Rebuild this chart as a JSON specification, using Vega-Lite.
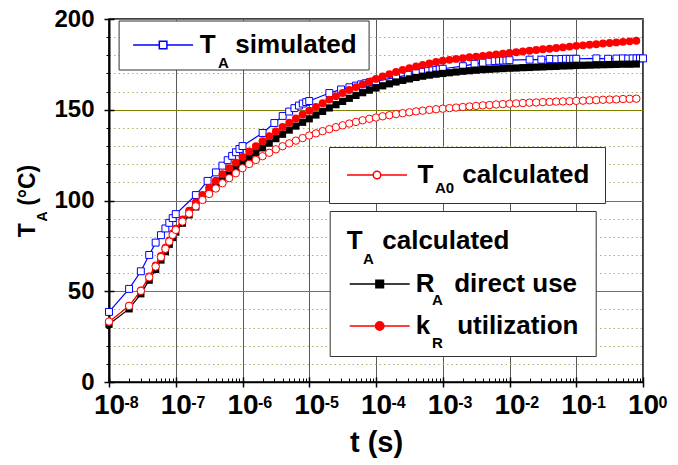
{
  "$schema": "https://vega.github.io/schema/vega-lite/v6.json",
  "width": 534,
  "height": 363,
  "autosize": {"type": "none"},
  "padding": {"left": 109, "top": 19, "right": 35, "bottom": 83},
  "background": "white",
  "config": {
    "view": {"stroke": "black", "strokeWidth": 1.5},
    "font": "Liberation Sans",
    "axis": {"labelFont": "Liberation Sans", "titleFont": "Liberation Sans", "labelColor": "black", "titleColor": "black"},
    "legend": {"labelFont": "Liberation Sans", "titleFont": "Liberation Sans", "labelColor": "black", "titleColor": "black"}
  },
  "datasets": {
    "sim": [
      {"t":1e-8,"T":38.6},{"t":2e-8,"T":51.3},{"t":3e-8,"T":61.0},{"t":4e-8,"T":70.0},{"t":5e-8,"T":76.8},{"t":6e-8,"T":80.9},{"t":7e-8,"T":84.6},{"t":8e-8,"T":87.7},{"t":9e-8,"T":90.3},
      {"t":1e-7,"T":92.5},{"t":2e-7,"T":103.0},{"t":3e-7,"T":110.8},{"t":4e-7,"T":115.5},{"t":5e-7,"T":119.2},{"t":6e-7,"T":122.2},{"t":7e-7,"T":124.6},{"t":8e-7,"T":126.6},{"t":9e-7,"T":128.4},
      {"t":1e-6,"T":130.0},{"t":2e-6,"T":137.2},{"t":3e-6,"T":142.7},{"t":4e-6,"T":146.6},{"t":5e-6,"T":149.0},{"t":6e-6,"T":150.9},{"t":7e-6,"T":152.3},{"t":8e-6,"T":153.4},{"t":9e-6,"T":154.2},
      {"t":1e-5,"T":154.8},{"t":2e-5,"T":159.2},{"t":3e-5,"T":161.2},{"t":4e-5,"T":162.4},{"t":5e-5,"T":163.3},{"t":6e-5,"T":164.0},{"t":7e-5,"T":164.6},{"t":8e-5,"T":165.1},{"t":9e-5,"T":165.5},
      {"t":1e-4,"T":165.8},{"t":2e-4,"T":167.8},{"t":3e-4,"T":169.3},{"t":4e-4,"T":170.2},{"t":5e-4,"T":170.8},{"t":6e-4,"T":171.3},{"t":7e-4,"T":171.7},{"t":8e-4,"T":172.0},{"t":9e-4,"T":172.3},
      {"t":1e-3,"T":172.6},{"t":2e-3,"T":174.0},{"t":3e-3,"T":175.3},{"t":4e-3,"T":176.0},{"t":5e-3,"T":176.6},{"t":6e-3,"T":176.8},{"t":7e-3,"T":177.0},{"t":8e-3,"T":177.1},{"t":9e-3,"T":177.2},
      {"t":1e-2,"T":177.3},{"t":2e-2,"T":177.6},{"t":3e-2,"T":177.6},{"t":4e-2,"T":178.0},{"t":5e-2,"T":177.8},{"t":6e-2,"T":178.0},{"t":7e-2,"T":178.1},{"t":8e-2,"T":178.0},{"t":9e-2,"T":178.1},
      {"t":1e-1,"T":178.1},{"t":2e-1,"T":178.3},{"t":3e-1,"T":178.1},{"t":4e-1,"T":178.2},{"t":5e-1,"T":178.3},{"t":6e-1,"T":178.2},{"t":7e-1,"T":178.3},{"t":8e-1,"T":178.3},{"t":9e-1,"T":178.3},{"t":1,"T":178.3}
    ],
    "calc": [
      {"t":1e-8,"a0":33.3,"ra":31.8,"kr":33.0},{"t":2e-8,"a0":41.9,"ra":40.3,"kr":42.0},{"t":3e-8,"a0":50.2,"ra":48.6,"kr":50.5},{"t":4e-8,"a0":57.7,"ra":56.1,"kr":58.2},{"t":5e-8,"a0":63.6,"ra":62.0,"kr":64.2},{"t":6e-8,"a0":68.8,"ra":67.2,"kr":69.4},{"t":7e-8,"a0":73.4,"ra":71.8,"kr":74.0},{"t":8e-8,"a0":77.4,"ra":75.9,"kr":78.0},{"t":9e-8,"a0":81.1,"ra":79.6,"kr":81.8},
      {"t":1e-7,"a0":83.8,"ra":82.6,"kr":84.5},{"t":1.2589e-7,"a0":88.4,"ra":87.5,"kr":89.6},{"t":1.5849e-7,"a0":92.8,"ra":92.1,"kr":94.4},{"t":1.9953e-7,"a0":96.8,"ra":96.5,"kr":98.9},{"t":2.5119e-7,"a0":100.3,"ra":100.6,"kr":103.1},{"t":3.1623e-7,"a0":103.6,"ra":104.4,"kr":107.1},{"t":3.9811e-7,"a0":106.6,"ra":108.0,"kr":110.9},{"t":5.0119e-7,"a0":109.5,"ra":111.4,"kr":114.5},{"t":6.3096e-7,"a0":112.3,"ra":114.6,"kr":117.8},{"t":7.9433e-7,"a0":115.0,"ra":117.6,"kr":120.9},
      {"t":1e-6,"a0":117.8,"ra":120.6,"kr":124.0},{"t":1.2589e-6,"a0":120.1,"ra":123.5,"kr":127.0},{"t":1.5849e-6,"a0":122.3,"ra":126.3,"kr":129.9},{"t":1.9953e-6,"a0":124.4,"ra":129.0,"kr":132.7},{"t":2.5119e-6,"a0":126.3,"ra":131.6,"kr":135.4},{"t":3.1623e-6,"a0":128.2,"ra":134.1,"kr":138.0},{"t":3.9811e-6,"a0":129.9,"ra":136.5,"kr":140.5},{"t":5.0119e-6,"a0":131.5,"ra":138.8,"kr":142.9},{"t":6.3096e-6,"a0":133.0,"ra":141.0,"kr":145.2},{"t":7.9433e-6,"a0":134.4,"ra":143.1,"kr":147.4},
      {"t":1e-5,"a0":135.8,"ra":145.0,"kr":149.5},{"t":1.2589e-5,"a0":137.0,"ra":147.1,"kr":151.6},{"t":1.5849e-5,"a0":138.2,"ra":149.1,"kr":153.6},{"t":1.9953e-5,"a0":139.3,"ra":151.0,"kr":155.6},{"t":2.5119e-5,"a0":140.4,"ra":152.8,"kr":157.4},{"t":3.1623e-5,"a0":141.4,"ra":154.6,"kr":159.2},{"t":3.9811e-5,"a0":142.4,"ra":156.3,"kr":160.9},{"t":5.0119e-5,"a0":143.3,"ra":157.9,"kr":162.5},{"t":6.3096e-5,"a0":144.2,"ra":159.4,"kr":164.0},{"t":7.9433e-5,"a0":145.0,"ra":160.8,"kr":165.5},
      {"t":1e-4,"a0":145.7,"ra":162.0,"kr":167.0},{"t":1.2589e-4,"a0":146.4,"ra":163.2,"kr":168.3},{"t":1.5849e-4,"a0":147.0,"ra":164.3,"kr":169.6},{"t":1.9953e-4,"a0":147.6,"ra":165.3,"kr":170.8},{"t":2.5119e-4,"a0":148.1,"ra":166.2,"kr":171.9},{"t":3.1623e-4,"a0":148.6,"ra":167.0,"kr":172.9},{"t":3.9811e-4,"a0":149.1,"ra":167.8,"kr":173.8},{"t":5.0119e-4,"a0":149.5,"ra":168.5,"kr":174.7},{"t":6.3096e-4,"a0":149.9,"ra":169.1,"kr":175.5},{"t":7.9433e-4,"a0":150.3,"ra":169.6,"kr":176.3},
      {"t":1e-3,"a0":150.6,"ra":170.0,"kr":177.0},{"t":1.2589e-3,"a0":150.9,"ra":170.4,"kr":177.5},{"t":1.5849e-3,"a0":151.2,"ra":170.8,"kr":178.0},{"t":1.9953e-3,"a0":151.5,"ra":171.2,"kr":178.4},{"t":2.5119e-3,"a0":151.8,"ra":171.5,"kr":178.9},{"t":3.1623e-3,"a0":152.1,"ra":171.8,"kr":179.3},{"t":3.9811e-3,"a0":152.4,"ra":172.1,"kr":179.7},{"t":5.0119e-3,"a0":152.6,"ra":172.3,"kr":180.1},{"t":6.3096e-3,"a0":152.9,"ra":172.5,"kr":180.5},{"t":7.9433e-3,"a0":153.1,"ra":172.7,"kr":180.9},
      {"t":1e-2,"a0":153.3,"ra":172.9,"kr":181.3},{"t":1.2589e-2,"a0":153.5,"ra":173.0,"kr":181.7},{"t":1.5849e-2,"a0":153.7,"ra":173.2,"kr":182.1},{"t":1.9953e-2,"a0":153.9,"ra":173.3,"kr":182.5},{"t":2.5119e-2,"a0":154.0,"ra":173.5,"kr":182.9},{"t":3.1623e-2,"a0":154.2,"ra":173.6,"kr":183.3},{"t":3.9811e-2,"a0":154.3,"ra":173.8,"kr":183.6},{"t":5.0119e-2,"a0":154.5,"ra":173.9,"kr":184.0},{"t":6.3096e-2,"a0":154.6,"ra":174.1,"kr":184.4},{"t":7.9433e-2,"a0":154.7,"ra":174.2,"kr":184.8},
      {"t":1e-1,"a0":154.9,"ra":174.4,"kr":185.2},{"t":0.12589,"a0":155.0,"ra":174.5,"kr":185.5},{"t":0.15849,"a0":155.2,"ra":174.6,"kr":185.8},{"t":0.19953,"a0":155.3,"ra":174.7,"kr":186.1},{"t":0.25119,"a0":155.5,"ra":174.8,"kr":186.5},{"t":0.31623,"a0":155.6,"ra":174.9,"kr":186.8},{"t":0.39811,"a0":155.7,"ra":175.0,"kr":187.1},{"t":0.50119,"a0":155.9,"ra":175.1,"kr":187.4},{"t":0.63096,"a0":156.0,"ra":175.1,"kr":187.7},{"t":0.79433,"a0":156.1,"ra":175.2,"kr":188.0}
    ]
  },
  "layer": [
    {
      "data": {"name": "sim"},
      "mark": {"type": "line", "color": "#0000ff", "strokeWidth": 1.2},
      "encoding": {
        "x": {"field": "t", "type": "quantitative", "scale": {"type": "log", "domain": [1e-8, 1]},
          "axis": {"orient": "bottom", "values": [1e-8,1e-7,1e-6,1e-5,1e-4,1e-3,1e-2,1e-1,1], "labelExpr": "'10'", "labelFontWeight": "bold", "labelFontSize": 28, "labelPadding": 4, "labelFlush": false, "labelOverlap": false, "tickSize": 5, "tickColor": "black", "tickWidth": 1.5, "domain": true, "domainColor": "black", "domainWidth": 1.5, "grid": true, "gridColor": "#5a5a5a", "gridWidth": 1, "title": "t (s)", "titleFontWeight": "bold", "titleFontSize": 29, "titlePadding": 9}},
        "y": {"field": "T", "type": "quantitative", "scale": {"domain": [0, 200]},
          "axis": {"orient": "left", "values": [0,50,100,150,200], "labelFontWeight": "bold", "labelFontSize": 24, "labelPadding": 10, "labelFlush": false, "labelOverlap": false, "tickSize": 5, "tickColor": "black", "tickWidth": 1.5, "domain": true, "domainColor": "black", "domainWidth": 2, "grid": true, "gridColor": "#808000", "gridWidth": 1, "title": "T\u00a0\u00a0\u2009(°C)", "titleFontWeight": "bold", "titleFontSize": 23, "titlePadding": 14}}
      }
    },
    {
      "data": {"name": "sim"},
      "mark": {"type": "point", "shape": "square", "size": 48, "filled": false, "fill": "white", "stroke": "#0000ff", "strokeWidth": 1, "opacity": 1},
      "encoding": {
        "x": {"field": "t", "type": "quantitative",
          "axis": {"orient": "bottom", "values": [2e-8,3e-8,4e-8,5e-8,6e-8,7e-8,8e-8,9e-8,2e-7,3e-7,4e-7,5e-7,6e-7,7e-7,8e-7,9e-7,2e-6,3e-6,4e-6,5e-6,6e-6,7e-6,8e-6,9e-6,2e-5,3e-5,4e-5,5e-5,6e-5,7e-5,8e-5,9e-5,2e-4,3e-4,4e-4,5e-4,6e-4,7e-4,8e-4,9e-4,2e-3,3e-3,4e-3,5e-3,6e-3,7e-3,8e-3,9e-3,2e-2,3e-2,4e-2,5e-2,6e-2,7e-2,8e-2,9e-2,0.2,0.3,0.4,0.5,0.6,0.7,0.8,0.9], "labels": false, "tickSize": -4, "tickColor": "black", "tickWidth": 1, "domain": false, "grid": false, "title": null}},
        "y": {"field": "T", "type": "quantitative",
          "axis": {"orient": "left", "values": [10,20,30,40,60,70,80,90,110,120,130,140,160,170,180,190], "labels": false, "tickSize": 3, "tickColor": "black", "tickWidth": 1, "domain": false, "grid": true, "gridColor": "#b0b068", "gridDash": [1.5, 3], "gridWidth": 1, "title": "A", "titleFontSize": 14, "titleFontWeight": "bold", "titleAngle": -90, "titleX": -67, "titleY": 197, "titleAlign": "center", "titleBaseline": "middle"}}
      }
    },
    {
      "data": {"name": "calc"},
      "mark": {"type": "line", "color": "black", "strokeWidth": 1.2},
      "encoding": {
        "x": {"field": "t", "type": "quantitative",
          "axis": {"orient": "bottom", "values": [1e-8,1e-7,1e-6,1e-5,1e-4,1e-3,1e-2,1e-1,1], "labelExpr": "'' + round(log(datum.value)/LN10)", "labelFontWeight": "bold", "labelFontSize": 16, "labelAlign": "left", "labelOffset": 15, "labelPadding": 12, "labelFlush": false, "labelOverlap": false, "ticks": false, "domain": false, "grid": false, "title": null}},
        "y": {"field": "ra", "type": "quantitative", "axis": null}
      }
    },
    {
      "data": {"name": "calc"},
      "mark": {"type": "point", "shape": "square", "size": 52, "filled": true, "color": "black", "opacity": 1},
      "encoding": {
        "x": {"field": "t", "type": "quantitative",
          "axis": {"orient": "bottom", "values": [1e-8,1e-7,1e-6,1e-5,1e-4,1e-3,1e-2,1e-1,1], "labels": false, "tickSize": -5, "tickColor": "black", "tickWidth": 1.5, "domain": false, "grid": false, "title": null}},
        "y": {"field": "ra", "type": "quantitative",
          "axis": {"orient": "left", "values": [0,50,100,150,200], "labels": false, "tickSize": -5, "tickColor": "black", "tickWidth": 1.5, "domain": false, "grid": false, "title": null}}
      }
    },
    {
      "data": {"name": "calc"},
      "mark": {"type": "line", "color": "#ff0000", "strokeWidth": 1.2},
      "encoding": {
        "x": {"field": "t", "type": "quantitative", "axis": null},
        "y": {"field": "kr", "type": "quantitative", "axis": null}
      }
    },
    {
      "data": {"name": "calc"},
      "mark": {"type": "point", "shape": "circle", "size": 62, "filled": true, "color": "#ff0000", "opacity": 1},
      "encoding": {
        "x": {"field": "t", "type": "quantitative", "axis": null},
        "y": {"field": "kr", "type": "quantitative", "axis": null}
      }
    },
    {
      "data": {"name": "calc"},
      "mark": {"type": "line", "color": "#ff0000", "strokeWidth": 1},
      "encoding": {
        "x": {"field": "t", "type": "quantitative", "axis": null},
        "y": {"field": "a0", "type": "quantitative", "axis": null}
      }
    },
    {
      "data": {"name": "calc"},
      "mark": {"type": "point", "shape": "circle", "size": 55, "filled": false, "fill": "white", "stroke": "#ff0000", "strokeWidth": 1, "opacity": 1},
      "encoding": {
        "x": {"field": "t", "type": "quantitative", "axis": null},
        "y": {"field": "a0", "type": "quantitative", "axis": null}
      }
    },
    {
      "data": {"values": []},
      "mark": {"type": "point", "filled": false, "fill": "white", "stroke": "#0000ff", "strokeWidth": 1.2, "opacity": 1},
      "encoding": {
        "shape": {"field": "k", "type": "nominal",
          "scale": {"domain": ["sim"], "range": ["M-1,0L1.62,0M2.38,0L5,0M1.62,-0.38L2.38,-0.38L2.38,0.38L1.62,0.38Z"]},
          "legend": {"orient": "none", "legendX": 9.6, "legendY": 1.5, "title": null, "labelExpr": "'T\u00a0\u00a0\u2009simulated\u00a0'", "labelFontSize": 26, "labelFontWeight": "bold", "labelOffset": 43.7, "labelLimit": 400, "symbolSize": 400, "strokeColor": "#333333", "fillColor": "white", "padding": 11.5}},
        "strokeDash": {"field": "s", "type": "nominal",
          "scale": {"domain": ["A"], "range": [[1, 0]]},
          "legend": {"orient": "none", "legendX": 94, "legendY": 36, "title": null, "labelFontSize": 15, "labelFontWeight": "bold", "labelOffset": 0, "symbolSize": 0, "symbolOpacity": 0, "symbolStrokeWidth": 0, "padding": 0}}
      }
    },
    {
      "data": {"values": []},
      "mark": {"type": "point", "filled": false, "fill": "white", "stroke": "#ff0000", "strokeWidth": 1, "opacity": 1},
      "encoding": {
        "shape": {"field": "k", "type": "nominal",
          "scale": {"domain": ["a0"], "range": ["M-1,0L1.62,0M2.38,0L5,0M1.62,0A0.38,0.38,0,1,0,2.38,0A0.38,0.38,0,1,0,1.62,0Z"]},
          "legend": {"orient": "none", "legendX": 220, "legendY": 128, "title": null, "labelExpr": "'T\u00a0\u00a0\u00a0\u00a0calculated\u00a0\u00a0\u2009'", "labelFontSize": 26, "labelFontWeight": "bold", "labelOffset": 47.5, "labelLimit": 400, "symbolSize": 400, "strokeColor": "#333333", "fillColor": "white", "padding": 15}},
        "strokeDash": {"field": "s", "type": "nominal",
          "scale": {"domain": ["A0"], "range": [[1, 0]]},
          "legend": {"orient": "none", "legendX": 311, "legendY": 161, "title": null, "labelFontSize": 15, "labelFontWeight": "bold", "labelOffset": 0, "symbolSize": 0, "symbolOpacity": 0, "symbolStrokeWidth": 0, "padding": 0}}
      }
    },
    {
      "data": {"values": []},
      "mark": {"type": "point", "filled": true, "strokeWidth": 1.2, "opacity": 1},
      "encoding": {
        "shape": {"field": "k", "type": "nominal",
          "scale": {"domain": ["ra", "kr"], "range": ["M-1,0L1.62,0M2.38,0L5,0M1.62,-0.38L2.38,-0.38L2.38,0.38L1.62,0.38Z", "M-1,0L1.58,0M2.42,0L5,0M1.58,0A0.42,0.42,0,1,0,2.42,0A0.42,0.42,0,1,0,1.58,0Z"]},
          "legend": {"orient": "none", "legendX": 220.7, "legendY": 192, "title": "T\u00a0\u00a0\u2009calculated", "titleFontSize": 26, "titleFontWeight": "bold", "titlePadding": 17, "titleAnchor": "start", "labelExpr": "datum.value === 'ra' ? 'R\u00a0\u00a0\u2009direct use' : 'k\u00a0\u00a0\u00a0\u2009utilization'", "labelFontSize": 26, "labelFontWeight": "bold", "labelOffset": 43.1, "labelLimit": 400, "symbolSize": 400, "symbolFillColor": "black", "symbolStrokeColor": "black", "rowPadding": 16, "strokeColor": "#333333", "fillColor": "white", "padding": 17}},
        "fill": {"field": "k", "type": "nominal",
          "scale": {"domain": ["ra", "kr"], "range": ["#000000", "#ff0000"]},
          "legend": {"orient": "none", "legendX": 220.7, "legendY": 192, "title": "T\u00a0\u00a0\u2009calculated", "titleFontSize": 26, "titleFontWeight": "bold", "titlePadding": 17, "titleAnchor": "start", "labelExpr": "datum.value === 'ra' ? 'R\u00a0\u00a0\u2009direct use' : 'k\u00a0\u00a0\u00a0\u2009utilization'", "labelFontSize": 26, "labelFontWeight": "bold", "labelOffset": 43.1, "labelLimit": 400, "symbolSize": 400, "symbolFillColor": "black", "symbolStrokeColor": "black", "rowPadding": 16, "strokeColor": "#333333", "fillColor": "white", "padding": 17}},
        "stroke": {"field": "k", "type": "nominal",
          "scale": {"domain": ["ra", "kr"], "range": ["#000000", "#ff0000"]},
          "legend": {"orient": "none", "legendX": 220.7, "legendY": 192, "title": "T\u00a0\u00a0\u2009calculated", "titleFontSize": 26, "titleFontWeight": "bold", "titlePadding": 17, "titleAnchor": "start", "labelExpr": "datum.value === 'ra' ? 'R\u00a0\u00a0\u2009direct use' : 'k\u00a0\u00a0\u00a0\u2009utilization'", "labelFontSize": 26, "labelFontWeight": "bold", "labelOffset": 43.1, "labelLimit": 400, "symbolSize": 400, "symbolFillColor": "black", "symbolStrokeColor": "black", "rowPadding": 16, "strokeColor": "#333333", "fillColor": "white", "padding": 17}},
        "strokeDash": {"field": "s", "type": "nominal",
          "scale": {"domain": ["A", "R"], "range": [[1, 0], [1, 0]]},
          "legend": {"orient": "none", "legendX": 254, "legendY": 233, "title": "A", "titleFontSize": 15, "titleFontWeight": "bold", "titlePadding": 25, "labelFontSize": 15, "labelFontWeight": "bold", "labelOffset": 54, "rowPadding": 27.7, "symbolSize": 0, "symbolOpacity": 0, "symbolStrokeWidth": 0, "padding": 0}}
      }
    }
  ],
  "resolve": {
    "axis": {"x": "independent", "y": "independent"},
    "scale": {"shape": "independent", "strokeDash": "independent", "fill": "independent", "stroke": "independent"}
  }
}
